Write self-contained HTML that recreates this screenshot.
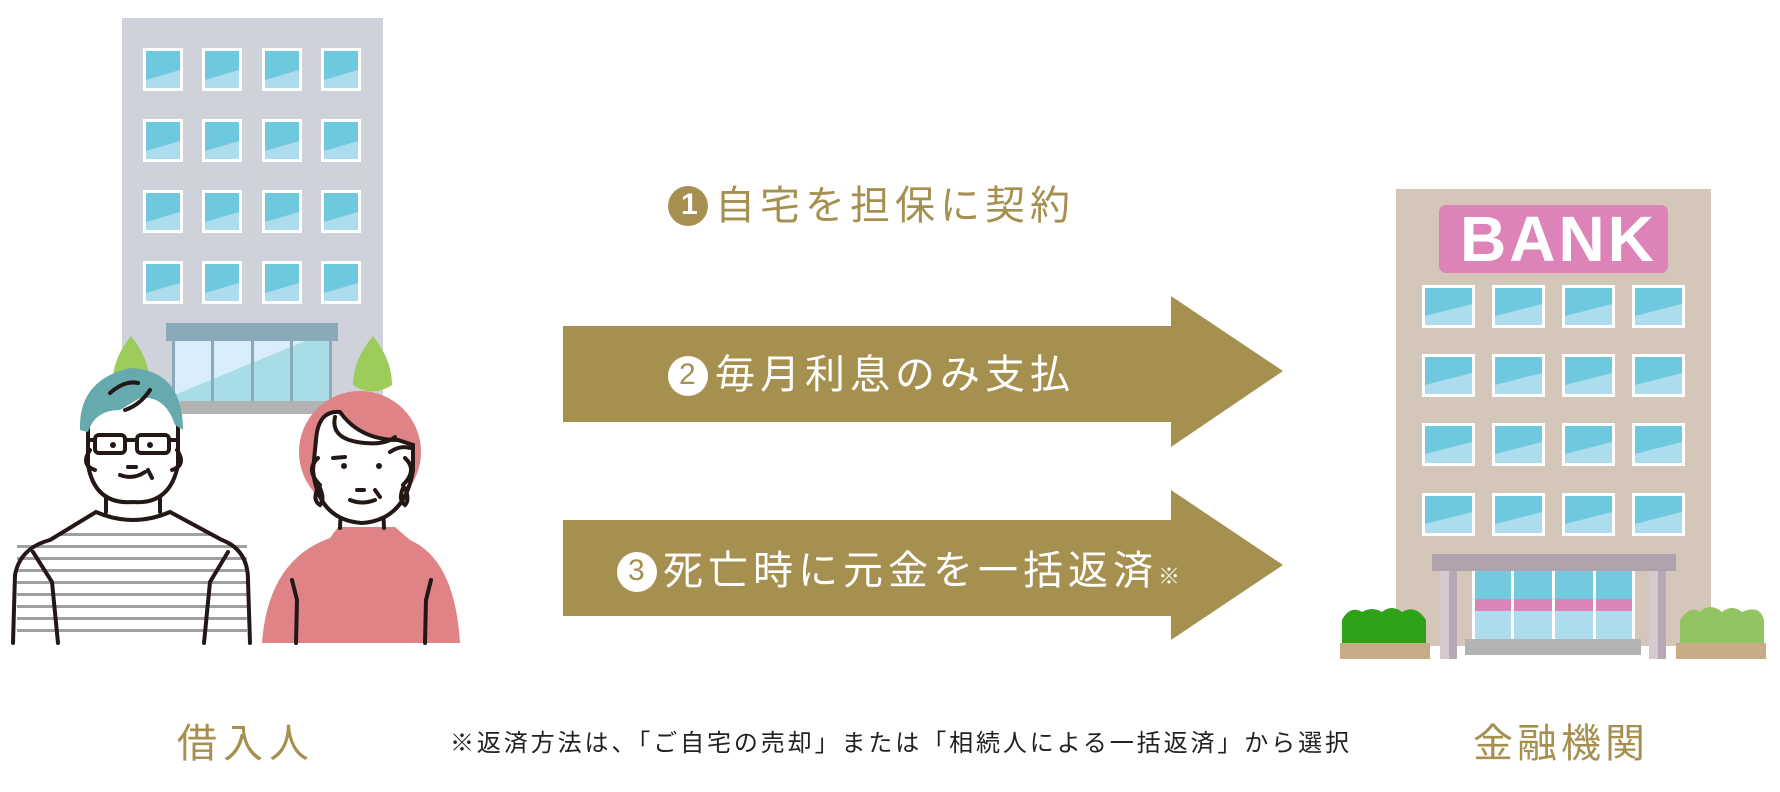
<!DOCTYPE html>
<html><head><meta charset="utf-8"><style>
html,body{margin:0;padding:0;background:#fff;}
body{width:1780px;height:792px;position:relative;overflow:hidden;font-family:"Liberation Sans","Noto Sans CJK JP",sans-serif;}
.t{position:absolute;white-space:nowrap;line-height:1;}
</style></head><body>
<svg width="1780" height="792" style="position:absolute;left:0;top:0">
<defs>
<g id="win"><rect x="0" y="0" width="40" height="43" fill="#fff"/><rect x="3" y="3" width="34" height="37" fill="#6ec9df"/><polygon points="3,32 37,22 37,40 3,40" fill="#aedcef"/></g>
<g id="bwin"><rect x="0" y="0" width="53" height="43" fill="#fff"/><rect x="3" y="3" width="47" height="37" fill="#6ec9df"/><polygon points="3,31 50,19 50,40 3,40" fill="#aedcef"/></g>
</defs>
<rect x="122" y="18" width="261" height="396" fill="#cfd2da"/>
<g>
<use href="#win" x="143" y="48"/><use href="#win" x="202" y="48"/><use href="#win" x="262" y="48"/><use href="#win" x="321" y="48"/>
<use href="#win" x="143" y="119"/><use href="#win" x="202" y="119"/><use href="#win" x="262" y="119"/><use href="#win" x="321" y="119"/>
<use href="#win" x="143" y="190"/><use href="#win" x="202" y="190"/><use href="#win" x="262" y="190"/><use href="#win" x="321" y="190"/>
<use href="#win" x="143" y="261"/><use href="#win" x="202" y="261"/><use href="#win" x="262" y="261"/><use href="#win" x="321" y="261"/>
</g>
<rect x="166" y="323" width="172" height="18" fill="#8aaab9"/>
<rect x="172" y="341" width="160" height="60" fill="#a8dde8"/>
<polygon points="172,341 305,341 172,396" fill="#d9eefa"/>
<g fill="#8aaab9"><rect x="172" y="341" width="3" height="60"/><rect x="211" y="341" width="3" height="60"/><rect x="251" y="341" width="3" height="60"/><rect x="290" y="341" width="3" height="60"/><rect x="329" y="341" width="3" height="60"/></g>
<rect x="180" y="401" width="160" height="13" fill="#b3b3b3"/>
<path d="M131 336 Q112 360 113 382 L149 382 Q150 360 131 336Z" fill="#9dcc5a"/>
<path d="M373 336 Q353 360 353 385 Q372 398 392 385 Q392 360 373 336Z" fill="#9dcc5a"/>
<!-- man -->
<path d="M13 643 L15 575 Q20 548 50 540 L96 512 Q133 528 170 512 L222 540 Q248 550 248 580 L250 643 Z" fill="#fff"/>
<g fill="#a0a0a0">
<rect x="17" y="545" width="230" height="3"/><rect x="17" y="557" width="230" height="3"/><rect x="17" y="569" width="230" height="3"/><rect x="17" y="581" width="230" height="3"/><rect x="17" y="593" width="230" height="3"/><rect x="17" y="605" width="230" height="3"/><rect x="17" y="617" width="230" height="3"/><rect x="17" y="629" width="230" height="3"/>
<rect x="60" y="533" width="150" height="3"/>
</g>
<g stroke="#231815" stroke-width="4" stroke-linecap="round" fill="none">
<path d="M13 643 L15 575 Q20 548 50 540 L96 512 Q133 528 170 512 L222 540 Q248 550 248 580 L250 643"/>
<path d="M33 552 L52 582 L58 643"/><path d="M228 552 L210 582 L204 643"/>
<path d="M106 490 L106 512"/><path d="M160 490 L160 512"/>
</g>
<path d="M88 425 Q90 395 130 390 Q175 395 178 425 L178 465 Q170 505 133 502 Q95 505 88 465Z" fill="#fff" stroke="#231815" stroke-width="4"/>
<path d="M80 430 Q78 380 130 368 Q183 370 183 430 L175 425 Q165 395 140 398 L120 410 Q95 410 88 432Z" fill="#67aaad"/>
<g stroke="#231815" stroke-width="4" fill="none" stroke-linecap="round">
<path d="M110 393 Q125 380 138 383"/><path d="M125 410 Q140 405 150 390"/>
<rect x="95" y="435" width="30" height="18" rx="4"/><rect x="137" y="435" width="32" height="18" rx="4"/><path d="M125 440 L137 440"/><path d="M88 440 L95 440"/><path d="M169 440 L176 440"/>
<path d="M90 450 Q80 465 95 470"/><path d="M177 450 Q187 465 172 470"/>
<path d="M120 475 Q133 480 145 472"/><path d="M128 467 L136 467"/><path d="M148 470 L152 478"/>
</g>
<circle cx="113" cy="445" r="3" fill="#231815"/><circle cx="150" cy="445" r="3" fill="#231815"/>
<!-- woman -->
<circle cx="360" cy="452" r="61" fill="#df8386"/>
<path d="M262 643 Q268 560 330 538 L338 527 L395 527 L410 540 Q455 560 460 643Z" fill="#df8386"/>
<g stroke="#231815" stroke-width="4" fill="none" stroke-linecap="round">
<path d="M341 505 L340 528"/><path d="M383 505 L384 528"/>
<path d="M292 580 L297 600 L296 643"/><path d="M431 580 L426 600 L425 643"/>
</g>
<path d="M316 440 Q318 410 340 412 Q360 440 398 440 L413 445 L413 470 Q405 520 362 523 Q318 520 313 470Z" fill="#fff" stroke="#231815" stroke-width="4"/>
<g stroke="#231815" stroke-width="4" fill="none" stroke-linecap="round">
<path d="M335 417 Q330 440 365 443 Q385 445 395 437"/><path d="M390 452 Q400 445 410 448"/>
<path d="M318 458 Q305 470 320 485"/><path d="M405 458 Q418 470 403 485"/>
<path d="M318 488 Q312 500 320 505 Q325 500 320 488"/><path d="M403 488 Q398 500 405 505 Q410 500 405 488"/>
<path d="M350 500 Q362 505 375 500"/><path d="M357 490 L364 490"/><path d="M375 490 L380 497"/><path d="M333 458 L345 457"/>
</g>
<circle cx="344" cy="466" r="3" fill="#231815"/><circle cx="379" cy="466" r="3" fill="#231815"/>
<!-- arrows -->
<polygon points="563,326 1171,326 1171,296 1283,371 1171,447 1171,422 563,422" fill="#a69050"/>
<polygon points="563,520 1171,520 1171,490 1283,565 1171,640 1171,616 563,616" fill="#a69050"/>
<!-- bank -->
<rect x="1396" y="189" width="315" height="457" fill="#d4c7ba"/>
<rect x="1439" y="205" width="229" height="68" rx="7" fill="#de83b8"/>
<g>
<use href="#bwin" x="1422" y="285"/><use href="#bwin" x="1492" y="285"/><use href="#bwin" x="1562" y="285"/><use href="#bwin" x="1632" y="285"/>
<use href="#bwin" x="1422" y="354"/><use href="#bwin" x="1492" y="354"/><use href="#bwin" x="1562" y="354"/><use href="#bwin" x="1632" y="354"/>
<use href="#bwin" x="1422" y="423"/><use href="#bwin" x="1492" y="423"/><use href="#bwin" x="1562" y="423"/><use href="#bwin" x="1632" y="423"/>
<use href="#bwin" x="1422" y="493"/><use href="#bwin" x="1492" y="493"/><use href="#bwin" x="1562" y="493"/><use href="#bwin" x="1632" y="493"/>
</g>
<rect x="1474" y="571" width="159" height="68" fill="#aedcef"/>
<rect x="1474" y="571" width="159" height="28" fill="#74c9de"/>
<rect x="1474" y="599" width="159" height="12" fill="#de83b8"/>
<g fill="#fff"><rect x="1472" y="571" width="3" height="68"/><rect x="1511" y="571" width="3" height="68"/><rect x="1552" y="571" width="3" height="68"/><rect x="1593" y="571" width="3" height="68"/><rect x="1632" y="571" width="3" height="68"/></g>
<rect x="1432" y="554" width="244" height="17" fill="#b0a2ab"/>
<rect x="1465" y="639" width="176" height="16" fill="#b3b3b3"/>
<rect x="1440" y="571" width="17" height="88" fill="#d8c8d0"/><rect x="1449" y="571" width="8" height="88" fill="#b8a8b5"/>
<rect x="1649" y="571" width="17" height="88" fill="#d8c8d0"/><rect x="1658" y="571" width="8" height="88" fill="#b8a8b5"/>
<path d="M1342 643 L1342 620 Q1350 605 1362 612 Q1372 606 1382 612 Q1392 604 1402 612 Q1416 604 1426 620 L1426 643Z" fill="#2fa21a"/>
<rect x="1340" y="643" width="90" height="16" fill="#c9ab85"/>
<path d="M1680 643 L1680 620 Q1690 605 1700 612 Q1710 602 1722 612 Q1732 604 1742 612 Q1760 604 1764 620 L1764 643Z" fill="#93c462"/>
<rect x="1676" y="643" width="90" height="16" fill="#c9ab85"/>
<circle cx="688" cy="206" r="20" fill="#a69050"/>
<circle cx="688" cy="376" r="20" fill="#fff"/>
<circle cx="637" cy="572" r="20" fill="#fff"/>
</svg>
<div class="t" style="left:1460px;top:207px;font-size:64px;font-weight:bold;color:#fff;letter-spacing:3px;">BANK</div>
<div class="t" style="left:681px;top:190px;font-size:30px;color:#fff;font-weight:bold;">1</div>
<div class="t" style="left:679px;top:360px;font-size:30px;color:#a69050;">2</div>
<div class="t" style="left:628px;top:556px;font-size:30px;color:#a69050;">3</div>
<div class="t" style="left:715px;top:186px;font-size:40px;color:#a69050;letter-spacing:5px;">自宅を担保に契約</div>
<div class="t" style="left:715px;top:355px;font-size:40px;color:#fff;letter-spacing:5px;">毎月利息のみ支払</div>
<div class="t" style="left:663px;top:551px;font-size:40px;color:#fff;letter-spacing:5px;">死亡時に元金を一括返済<span style="font-size:22px;letter-spacing:0">※</span></div>
<div class="t" style="left:177px;top:724px;font-size:40px;color:#a69050;letter-spacing:6px;">借入人</div>
<div class="t" style="left:1473px;top:724px;font-size:40px;color:#a69050;letter-spacing:4px;">金融機関</div>
<div class="t" style="left:450px;top:732px;font-size:24px;color:#222;letter-spacing:2.9px;">※返済方法は、「ご自宅の売却」または「相続人による一括返済」から選択</div>
</body></html>
